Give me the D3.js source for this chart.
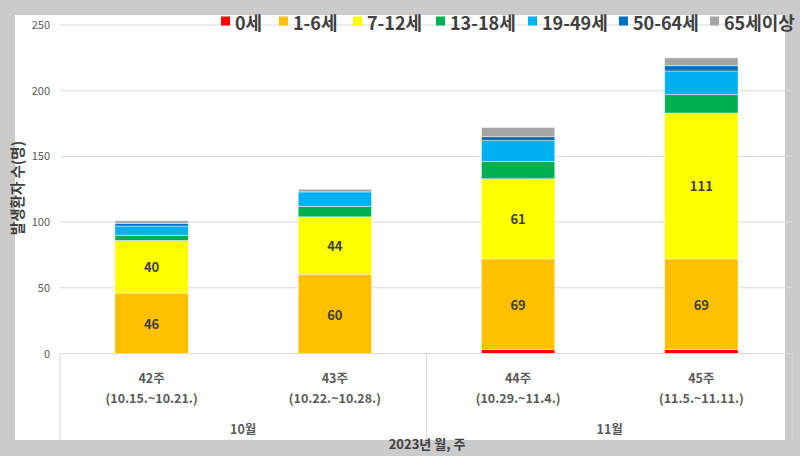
<!DOCTYPE html>
<html><head><meta charset="utf-8">
<script src="https://cdn.jsdelivr.net/npm/d3@7"></script>
<style>
html,body{margin:0;padding:0;background:#cbcbcb;}
svg{display:block;}
text{font-family:"Noto Sans CJK KR","Noto Sans",sans-serif;}
</style></head>
<body>
<svg id="chart" width="800" height="456"></svg>
<script>
const weeks = ["42주","43주","44주","45주"];
const weekRanges = ["(10.15.~10.21.)","(10.22.~10.28.)","(10.29.~11.4.)","(11.5.~11.11.)"];
const months = ["10월","11월"];
const seriesNames = ["0세","1-6세","7-12세","13-18세","19-49세","50-64세","65세이상"];
const seriesColors = ["#FF0000","#FFC000","#FFFF00","#00B050","#00B0F0","#0070C0","#A5A5A5"];
const age0   = [0, 0, 3, 3];
const age1_6 = [46, 60, 69, 69];
const age7_12 = [40, 44, 61, 111];
const age13_18 = [4, 8, 13, 14];
const age19_49 = [7, 11, 16, 18];
const age50_64 = [2, 0, 3, 4];
const age65 = [2, 2, 7, 6];
const yTicks = [0, 50, 100, 150, 200, 250];
const labeledSeries = ["1-6세","7-12세"];

const seriesValues = [age0, age1_6, age7_12, age13_18, age19_49, age50_64, age65];
const table = weeks.map((w,i)=>{
  const o = {week:w};
  seriesNames.forEach((s,j)=>{ o[s] = seriesValues[j][i]; });
  return o;
});

const svg = d3.select("#chart");
svg.append("rect").attr("x",15).attr("y",15).attr("width",770).attr("height",425).attr("fill","#fff");

const pLeft = 60, pRight = 793, pTop = 25, pBottom = 353.5;
const x = d3.scaleBand().domain(weeks).range([pLeft,pRight]).paddingInner(0.6).paddingOuter(0.3);
const y = d3.scaleLinear().domain([0,250]).range([pBottom, pTop]);

svg.append("g").selectAll("line").data(yTicks.filter(t=>t>0)).join("line")
  .attr("x1",pLeft).attr("x2",pRight).attr("y1",d=>y(d)).attr("y2",d=>y(d))
  .attr("stroke","#d9d9d9").attr("stroke-width",1);

const yAxis = d3.axisLeft(y).tickValues(yTicks).tickSize(0).tickPadding(0);
const yg = svg.append("g").attr("transform",`translate(50,0)`).call(yAxis);
yg.select(".domain").remove();
yg.selectAll("text").attr("font-size",11).attr("fill","#595959")
  .style("font-family","'Noto Sans CJK KR',sans-serif");

const stack = d3.stack().keys(seriesNames)(table);
const g = svg.append("g");
stack.forEach((layer,j)=>{
  g.append("g").selectAll("rect").data(layer).join("rect")
    .attr("x",d=>x(d.data.week)).attr("width",x.bandwidth())
    .attr("y",d=>y(d[1])).attr("height",d=>Math.max(0,y(d[0])-y(d[1])))
    .attr("fill",seriesColors[j])
    .attr("stroke","#ffffff").attr("stroke-opacity",0.55).attr("stroke-width",0.8);
});
stack.forEach((layer,j)=>{
  if(!labeledSeries.includes(seriesNames[j])) return;
  g.append("g").selectAll("text").data(layer).join("text")
    .attr("x",d=>x(d.data.week)+x.bandwidth()/2)
    .attr("y",d=>(y(d[0])+y(d[1]))/2)
    .attr("text-anchor","middle").attr("dominant-baseline","central")
    .attr("font-size",13).attr("font-weight","bold").attr("fill","#404040")
    .text(d=>d[1]-d[0]);
});

const axBottom = 440;
svg.append("line").attr("x1",pLeft).attr("x2",pRight).attr("y1",pBottom).attr("y2",pBottom)
  .attr("stroke","#d9d9d9").attr("stroke-width",1);
const bounds = [pLeft, (x(weeks[1])+x.bandwidth()+x(weeks[2]))/2, pRight];
svg.append("g").selectAll("line").data(bounds).join("line")
  .attr("x1",d=>d).attr("x2",d=>d).attr("y1",pBottom).attr("y2",axBottom)
  .attr("stroke","#d9d9d9").attr("stroke-width",1);

const cg = svg.append("g");
cg.selectAll("text.wk").data(weeks).join("text").attr("class","wk")
  .attr("x",d=>x(d)+x.bandwidth()/2).attr("y",377)
  .attr("text-anchor","middle").attr("dominant-baseline","central")
  .attr("font-size",12.5).attr("font-weight","bold").attr("fill","#595959").text(d=>d);
cg.selectAll("text.rg").data(weekRanges).join("text").attr("class","rg")
  .attr("x",(d,i)=>x(weeks[i])+x.bandwidth()/2).attr("y",397)
  .attr("text-anchor","middle").attr("dominant-baseline","central")
  .attr("font-size",12.5).attr("font-weight","bold").attr("fill","#595959").text(d=>d);
cg.selectAll("text.mo").data(months).join("text").attr("class","mo")
  .attr("x",(d,i)=>(bounds[i]+bounds[i+1])/2).attr("y",428)
  .attr("text-anchor","middle").attr("dominant-baseline","central")
  .attr("font-size",12.5).attr("font-weight","bold").attr("fill","#595959").text(d=>d);

svg.append("text").attr("x",427).attr("y",443)
  .attr("text-anchor","middle").attr("dominant-baseline","central")
  .attr("font-size",13).attr("font-weight","bold").attr("fill","#404040").text("2023년 월, 주");
svg.append("text").attr("transform","translate(16,188) rotate(-90)")
  .attr("text-anchor","middle").attr("dominant-baseline","central")
  .attr("font-size",14.5).attr("font-weight","bold").attr("fill","#404040").text("발생환자 수(명)");

const legendX = [221, 279, 353, 436, 528, 619, 710];
const lg = svg.append("g");
seriesNames.forEach((s,i)=>{
  lg.append("rect").attr("x",legendX[i]).attr("y",16.5).attr("width",9).attr("height",9).attr("fill",seriesColors[i]);
  lg.append("text").attr("x",legendX[i]+14).attr("y",21.5).attr("dominant-baseline","central")
    .attr("font-size",18).attr("font-weight","bold").attr("fill","#404040").text(s);
});
</script>
</body></html>
